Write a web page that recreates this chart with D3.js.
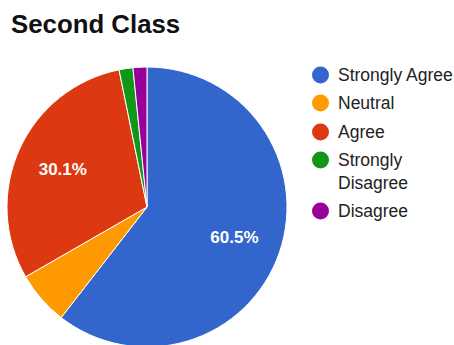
<!DOCTYPE html>
<html>
<head>
<meta charset="utf-8">
<script src="https://cdn.jsdelivr.net/npm/d3@7"></script>
<style>
  body { margin: 0; background: #fff; }
  svg { display: block; font-family: "Liberation Sans", Arial, sans-serif; }
</style>
</head>
<body>
<svg id="chart" width="454" height="345"></svg>
<script>
// categories and their percentages
let categories = ['Strongly Agree', 'Neutral', 'Agree', 'Strongly Disagree', 'Disagree'];
let percents = [60.5, 6.2, 30.1, 1.6, 1.6];
let colors = ['#3366cc', '#ff9900', '#dc3912', '#109618', '#990099'];
// legend text, split where it wraps
let legendLines = [['Strongly Agree'], ['Neutral'], ['Agree'], ['Strongly', 'Disagree'], ['Disagree']];

let svg = d3.select('#chart');

//title
svg.append('text')
  .attr('x', 11).attr('y', 33)
  .attr('font-size', 25.8).attr('font-weight', 'bold')
  .attr('fill', '#111')
  .text('Second Class');

let cx = 147, cy = 207, radius = 140;

let pie = d3.pie().sort(null).value(d => d.value);
let arc = d3.arc().innerRadius(0).outerRadius(radius);
let labelArc = d3.arc().innerRadius(radius * 0.66).outerRadius(radius * 0.66);

let data = categories.map((c, i) => ({ name: c, value: percents[i], color: colors[i] }));

let g = svg.append('g').attr('transform', 'translate(' + cx + ',' + cy + ')');

g.selectAll('path')
  .data(pie(data))
  .join('path')
  .attr('d', arc)
  .attr('fill', d => d.data.color)
  .attr('stroke', '#fff')
  .attr('stroke-width', 1);

//labels only on the big slices
g.selectAll('text')
  .data(pie(data).filter(d => d.data.value > 10))
  .join('text')
  .attr('transform', d => 'translate(' + labelArc.centroid(d) + ')')
  .attr('text-anchor', 'middle')
  .attr('dy', '0.35em')
  .attr('font-size', 17)
  .attr('font-weight', 'bold')
  .attr('fill', '#fff')
  .text(d => d.data.value.toFixed(1) + '%');

//legend
let rowY = [75, 103, 132, 160, 211];
let legend = svg.append('g');
let items = legend.selectAll('g')
  .data(data)
  .join('g')
  .attr('transform', (d, i) => 'translate(320.5,' + rowY[i] + ')');

items.append('circle')
  .attr('r', 8.5)
  .attr('fill', d => d.color);

items.each(function (d, i) {
  let t = d3.select(this).append('text')
    .attr('font-size', 17.5)
    .attr('fill', '#222');
  legendLines[i].forEach((line, j) => {
    t.append('tspan')
      .attr('x', 17.5)
      .attr('y', j * 23)
      .attr('dy', '0.35em')
      .text(line);
  });
});
</script>
</body>
</html>
